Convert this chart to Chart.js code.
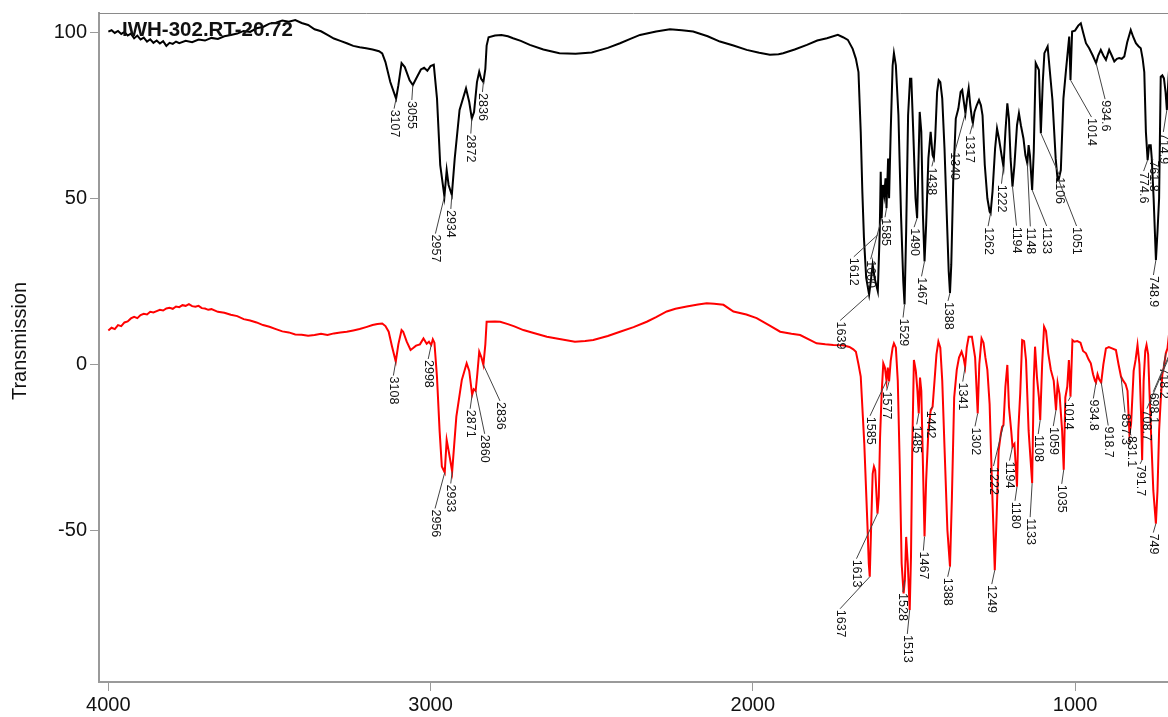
<!DOCTYPE html>
<html>
<head>
<meta charset="utf-8">
<title>IWH-302.RT-20.72</title>
<script src="https://cdn.jsdelivr.net/npm/chart.js@4.4.1/dist/chart.umd.min.js"></script>
<style>
  html, body { margin: 0; padding: 0; background: #fff; }
  #wrap { width: 1168px; height: 717px; }
</style>
</head>
<body>
<div id="wrap"><canvas id="ir" width="1168" height="717"></canvas></div>
<script>
const sampleName = 'IWH-302.RT-20.72';
const yTitle = 'Transmission';
const xTicks = [4000, 3000, 2000, 1000];
const yTicks = [100, 50, 0, -50];

// [wavenumber, transmission]
const blackPts = [
  [4000,100.2],[3990,100.6],[3980,99.8],[3970,100.4],[3960,99.5],[3950,100.1],[3940,99.0],[3930,99.6],
  [3920,98.2],[3910,99.0],[3900,97.8],[3890,98.4],[3880,97.2],[3870,97.9],[3860,96.8],[3850,97.5],
  [3840,96.6],[3830,97.3],[3820,95.9],[3810,96.8],[3800,96.5],[3790,97.2],[3780,96.7],[3760,97.4],
  [3740,97.0],[3720,97.8],[3700,97.5],[3680,98.3],[3660,98.0],[3640,98.8],[3620,99.2],[3600,99.6],
  [3580,100.4],[3560,100.1],[3540,101.2],[3520,101.6],[3500,102.6],[3480,102.9],[3460,103.5],[3440,103.2],
  [3420,103.7],[3400,102.8],[3380,102.2],[3360,100.9],[3340,100.3],[3320,99.2],[3300,98.1],[3280,97.4],
  [3260,96.7],[3240,95.9],[3220,95.5],[3200,95.2],[3180,94.8],[3160,94.3],[3150,93.6],[3140,91],
  [3125,85],[3107,80],[3100,84],[3090,90.7],[3080,89.5],[3065,85.5],[3055,84.1],[3045,86],
  [3030,88.8],[3020,89.3],[3010,88.4],[3000,89.8],[2990,90.2],[2980,80],[2970,60],[2957,50.5],
  [2950,58.5],[2944,54],[2934,51],[2925,62],[2910,76.6],[2890,83.1],[2880,79],[2872,74],
  [2865,76],[2856,85],[2849,88.1],[2843,86],[2836,85],[2830,89],[2826,96],[2820,98.5],
  [2800,99],[2780,99.2],[2760,98.8],[2744,98.2],[2720,97.4],[2692,96.2],[2650,94.8],[2600,93.7],
  [2550,93.5],[2500,93.9],[2450,95.3],[2412,96.7],[2380,98],[2350,99.2],[2300,100.2],[2257,100.9],
  [2220,100.6],[2185,100.2],[2140,98.8],[2102,97.2],[2060,96],[2019,94.7],[1980,93.8],[1947,93.2],
  [1920,93.4],[1906,93.7],[1870,94.8],[1832,96.2],[1800,97.5],[1770,98.2],[1736,99.2],[1720,98.5],
  [1705,97.7],[1690,95],[1680,92],[1672,88],[1665,70],[1660,52],[1655,38],[1648,26],
  [1639,21],[1635,24],[1628,30],[1622,26],[1612,22],[1606,40],[1603,58],[1600,44],
  [1596,54],[1592,51],[1588,56],[1585,47],[1580,62],[1577,50],[1572,70],[1566,90],
  [1562,93.7],[1556,90],[1548,75],[1540,45],[1533,25],[1529,18],[1524,40],[1518,75],
  [1512,86],[1508,86],[1502,70],[1495,50],[1490,44],[1486,60],[1482,76],[1477,70],
  [1472,45],[1467,31],[1462,42],[1455,62],[1448,70],[1442,63],[1438,62],[1434,68],
  [1428,82],[1423,85.6],[1418,85],[1412,80],[1405,65],[1398,45],[1392,28],[1388,21.5],
  [1384,30],[1378,55],[1370,74],[1362,77],[1355,82],[1350,82.6],[1345,79],[1340,75.6],
  [1335,80],[1330,83.1],[1325,78],[1320,74],[1317,72.6],[1312,76],[1305,78],[1298,79.6],
  [1292,78],[1287,75],[1280,60],[1272,50],[1265,46],[1262,45.5],[1256,52],[1248,65],
  [1242,71],[1236,68],[1228,63],[1222,59.5],[1216,70],[1210,78.6],[1205,74],[1200,62],
  [1194,53.5],[1188,60],[1180,72],[1174,75.6],[1168,72],[1160,68],[1154,63],[1148,60.5],
  [1144,66],[1140,63],[1133,52.5],[1128,64],[1122,90.7],[1112,88.6],[1106,69.6],[1100,85],
  [1095,93.7],[1085,95.7],[1070,79.6],[1060,62],[1054,55.5],[1051,55.5],[1044,58.5],[1036,80],
  [1028,88.6],[1018,98.7],[1014,85.6],[1009,100.2],[1000,100.5],[990,102],[982,102.7],[975,100],
  [966,96.7],[956,95.2],[945,93],[934.6,90.7],[928,93],[920,94.7],[912,93],[904,91.7],
  [894,94.7],[886,93],[878,91.2],[870,92],[863,92.2],[855,92],[847,92.7],[838,97],
  [827,100.7],[819,98.5],[811,96.7],[803,95.8],[796,95.2],[790,92],[785,88],[780,70],
  [774.6,61.5],[770,66],[765,66],[761.8,62],[756,50],[748.9,31.4],[744,40],[739,50],
  [734,86.6],[729,87],[724,86.1],[719,82],[714.9,76.6],[710,86],[704,94.5],[695,96]
];

const redPts = [
  [4000,10.2],[3990,11.0],[3980,10.6],[3970,11.8],[3960,11.5],[3950,12.6],[3940,12.9],[3930,13.8],
  [3920,14.3],[3910,13.9],[3900,14.8],[3890,15.2],[3880,15.0],[3870,15.8],[3860,15.6],[3850,16.0],
  [3840,16.4],[3830,16.2],[3820,16.8],[3810,17.0],[3800,16.7],[3790,17.4],[3780,17.2],[3770,17.8],
  [3760,17.6],[3750,18.1],[3740,17.5],[3730,17.3],[3720,17.6],[3710,16.9],[3700,16.8],[3690,16.4],
  [3680,16.6],[3660,15.8],[3640,15.5],[3620,14.9],[3600,14.5],[3580,13.6],[3560,13.2],[3540,12.6],
  [3520,11.8],[3500,11.3],[3480,10.6],[3460,9.9],[3440,9.6],[3420,9.0],[3400,8.9],[3380,8.6],
  [3360,8.8],[3340,9.2],[3320,8.8],[3300,9.3],[3280,9.6],[3260,9.8],[3240,10.2],[3220,10.6],
  [3200,11.2],[3180,11.8],[3165,12.1],[3150,12.3],[3140,11.5],[3130,9.8],[3120,5.5],[3108,0.8],
  [3100,6],[3090,10.3],[3085,9.8],[3074,6.8],[3062,4.3],[3055,4.8],[3045,5.6],[3033,6],
  [3022,7.8],[3012,6.2],[3005,6.8],[2998,5.8],[2993,7.5],[2988,6.5],[2980,-4],[2972,-20],
  [2965,-30.8],[2956,-32.6],[2950,-22.8],[2944,-26],[2933,-32.3],[2920,-15.8],[2903,-4.7],[2888,0.3],
  [2880,-2],[2871,-9.2],[2866,-7.5],[2860,-8],[2855,-3],[2849,3.8],[2842,2],[2836,-0.2],
  [2830,6],[2826,12.8],[2800,12.9],[2784,12.8],[2760,12.1],[2740,11.4],[2712,10.3],[2680,9.4],
  [2639,8.3],[2600,7.6],[2552,6.8],[2520,7],[2495,7.3],[2450,8.5],[2412,9.8],[2370,11.2],
  [2329,12.8],[2300,14.2],[2267,15.9],[2240,16.7],[2205,17.4],[2170,18],[2143,18.4],[2120,18.2],
  [2091,17.9],[2060,15.9],[2020,15],[1988,13.9],[1950,11.8],[1915,9.8],[1880,9.2],[1853,8.8],
  [1820,7.2],[1802,6.3],[1775,6],[1750,5.8],[1720,5.7],[1700,5.2],[1688,4.5],[1680,3.8],
  [1672,0],[1665,-3.7],[1654,-23.8],[1644,-48.9],[1640,-60],[1637,-64],[1633,-50],[1628,-33],
  [1624,-30.8],[1620,-32],[1613,-45],[1609,-40],[1605,-22],[1600,-8.7],[1595,0.3],[1590,-1],
  [1585,-5],[1581,-1],[1577,-5.2],[1572,1],[1566,5],[1562,6.3],[1556,5],[1550,-5],
  [1544,-30],[1538,-60],[1532,-69],[1528,-65],[1524,-52],[1519,-60],[1513,-74],[1509,-58],
  [1505,-25],[1500,1.3],[1494,-2],[1489,-8],[1485,-14.8],[1481,-4],[1477,-8],[1472,-30],
  [1467,-51.9],[1462,-35],[1455,-20],[1448,-14],[1442,-12.8],[1436,-5],[1430,3],[1424,6.8],
  [1418,5],[1412,-5],[1405,-25],[1396,-50],[1388,-61],[1382,-40],[1375,-10],[1367,-1.7],
  [1360,2],[1352,3.8],[1346,2],[1341,-0.7],[1336,5],[1330,8.3],[1320,8.3],[1310,2],
  [1302,-14.8],[1297,0],[1290,7.8],[1284,6.5],[1278,2],[1272,-1.7],[1265,-12],[1258,-35],
  [1249,-62],[1243,-45],[1237,-26],[1230,-20.8],[1226,-18.8],[1222,-18.3],[1216,-6.7],[1210,-0.2],
  [1205,-12.8],[1198,-20],[1194,-24.8],[1188,-24],[1180,-36.9],[1176,-20],[1170,-8.7],[1164,7.3],
  [1158,7],[1152,1.3],[1144,-20],[1133,-35.8],[1128,-5],[1124,5.3],[1118,-4],[1112,-10],
  [1108,-16.8],[1102,0],[1096,11.3],[1090,10],[1083,3.3],[1075,-1.7],[1066,-5],[1059,-13.8],
  [1054,-5.7],[1048,-9],[1040,-20],[1035,-31.8],[1030,-10],[1024,-6.7],[1019,1.3],[1014,-9.8],
  [1008,7.3],[1002,6.8],[993,7],[983,6.5],[975,4],[966,3.3],[958,1.5],[951,0.3],
  [944,-3],[938,-5],[934.8,-5.5],[930,-3],[925,-4.5],[918.7,-5.5],[912,0],[904,4.8],
  [895,5.2],[885,4.8],[873,4.3],[865,0],[857.3,-3.7],[850,-5],[843,-6],[837,-8],
  [831.1,-21],[826,-18],[818,-2],[812,1.3],[806,5.8],[800,0],[795,-15],[791.7,-28.8],
  [787,-5],[782,4],[778,5.8],[773,3],[769,-8],[764,-20.8],[757,-38],[749,-48],
  [744,-38],[739,-20],[734,-10.8],[729,-3],[724,-0.7],[718.2,3.3],[713,4.8],[708,9.3],
  [700,11],[695,12]
];

// peak labels: [text, wavenumber, transmission at the peak]
const blackPeaks = [
  ['3107',3107,80],['3055',3055,84.1],['2957',2957,50.5],['2934',2934,51],['2872',2872,74],['2836',2836,85],
  ['1639',1639,21],['1612',1612,39],['1600',1600,44],['1585',1585,47],['1529',1529,18],['1490',1490,44],
  ['1467',1467,31],['1438',1438,62],['1388',1388,21.5],['1340',1340,75.6],['1317',1317,72.6],['1262',1262,45.5],
  ['1222',1222,59.5],['1194',1194,53.5],['1148',1148,60.5],['1133',1133,52.5],['1106',1106,69.6],['1051',1051,55.5],
  ['1014',1014,85.6],['934.6',934.6,90.7],['774.6',774.6,61.5],['761.8',761.8,62],['748.9',748.9,31.4],['714.9',714.9,76.6]
];
const redPeaks = [
  ['3108',3108,0.8],['2998',2998,5.8],['2956',2956,-32.6],['2933',2933,-32.3],['2871',2871,-9.2],['2860',2860,-8],
  ['2836',2836,-0.2],['1637',1637,-64],['1613',1613,-45],['1585',1585,-5],['1577',1577,-5.2],['1528',1528,-65],
  ['1513',1513,-74],['1485',1485,-14.8],['1467',1467,-51.9],['1442',1442,-12.8],['1388',1388,-61],['1341',1341,-0.7],
  ['1302',1302,-14.8],['1249',1249,-62],['1222',1222,-18.3],['1194',1194,-24.8],['1180',1180,-36.9],['1133',1133,-35.8],
  ['1108',1108,-16.8],['1059',1059,-13.8],['1035',1035,-31.8],['1014',1014,-9.8],['934.8',934.8,-5.5],['918.7',918.7,-5.5],
  ['857.3',857.3,-3.7],['831.1',831.1,-21],['791.7',791.7,-28.8],['749',749,-48],['718.2',718.2,3.3],['708.7',708.7,2],
  ['698.1',698.1,5]
];

// where each label text starts, relative to its peak (px)
const blackLabelOffsets = [
  [-2,11],[-1,16],[-9,38],[-1,15],[-1,16],[-1,11],
  [-29,27],[-24,23],[-11,42],[-1.5,10],[-1.5,14],[-3,10],
  [-3,16],[-2,9],[-2,9],[-10.5,39],[-3,12],[-2.5,14],
  [-2,18],[4,40],[3,64],[14.5,37],[19,44],[18,47],
  [21,38],[9,37],[-4,12],[1.5,2],[-2.5,16],[-3.5,23]
];
const redLabelOffsets = [
  [-2.4,15],[-3,15],[-9.7,37],[-1.4,13],[-2,15],[9,44],
  [16.6,37],[-29.7,33],[-21,46],[-16.5,36],[-2.4,10],[-2,13],
  [-2.4,25],[-2,12],[-1.2,15],[-2.6,4],[-2.3,11],[-2.4,16],
  [-2.7,14],[-3,15],[-10,42],[-3,15],[-2,15],[-2,35],
  [-2,15],[-2.7,17],[-2,15],[-2.2,5],[-2.7,17],[7,44],
  [4,37],[2,2],[-2,5],[-2.6,10],[-2.5,14],[-22,52],
  [-19,45]
];

const toXY = pts => pts.map(p => ({ x: p[0], y: p[1] }));
const fontFam = '"Liberation Sans", Arial, sans-serif';

const peakLabels = {
  id: 'peakLabels',
  afterDatasetsDraw(chart) {
    const { ctx, scales: { x, y } } = chart;
    const drawSet = (peaks, offs) => {
      peaks.forEach((p, i) => {
        const ax = x.getPixelForValue(p[1]);
        const ay = y.getPixelForValue(p[2]);
        const tx = ax + offs[i][0];
        const ty = ay + offs[i][1];
        ctx.beginPath();
        ctx.moveTo(ax, ay);
        ctx.lineTo(tx, ty - 1);
        ctx.strokeStyle = '#444';
        ctx.lineWidth = 1;
        ctx.stroke();
        ctx.save();
        ctx.translate(tx, ty);
        ctx.rotate(Math.PI / 2);
        ctx.fillStyle = '#111';
        ctx.font = '12.5px ' + fontFam;
        ctx.textAlign = 'left';
        ctx.textBaseline = 'middle';
        ctx.fillText(p[0], 0, 0);
        ctx.restore();
      });
    };
    ctx.save();
    drawSet(blackPeaks, blackLabelOffsets);
    drawSet(redPeaks, redLabelOffsets);

    // frame top, sample name, y title
    const a = chart.chartArea;
    ctx.beginPath();
    ctx.moveTo(a.left, a.top + 0.5);
    ctx.lineTo(a.right, a.top + 0.5);
    ctx.strokeStyle = '#8a8a8a';
    ctx.lineWidth = 1;
    ctx.stroke();
    ctx.fillStyle = '#111';
    ctx.font = 'bold 20.5px ' + fontFam;
    ctx.textAlign = 'left';
    ctx.textBaseline = 'middle';
    ctx.fillText(sampleName, a.left + 23, 30);

    ctx.save();
    ctx.translate(20, 341);
    ctx.rotate(-Math.PI / 2);
    ctx.font = '20px ' + fontFam;
    ctx.textAlign = 'center';
    ctx.fillText(yTitle, 0, 0);
    ctx.restore();
    ctx.restore();
  }
};

new Chart(document.getElementById('ir'), {
  type: 'scatter',
  data: {
    datasets: [
      { data: toXY(blackPts), showLine: true, borderColor: '#000', borderWidth: 2, pointRadius: 0, tension: 0 },
      { data: toXY(redPts),   showLine: true, borderColor: '#ff0000', borderWidth: 2, pointRadius: 0, tension: 0 }
    ]
  },
  options: {
    responsive: false,
    animation: false,
    layout: { padding: { top: 12, right: 0, left: 0, bottom: 0 } },
    plugins: { legend: { display: false }, tooltip: { enabled: false } },
    scales: {
      x: {
        type: 'linear', reverse: true, min: 711.4, max: 4029,
        afterBuildTicks: s => { s.ticks = xTicks.map(v => ({ value: v })); },
        afterFit: s => { s.height = 35; },
        grid: { drawOnChartArea: false, drawTicks: true, tickLength: 9, color: '#9a9a9a' },
        border: { display: true, color: '#9a9a9a', width: 2 },
        ticks: { color: '#111', padding: 2, maxRotation: 0, font: { size: 20, family: fontFam }, callback: v => String(v) }
      },
      y: {
        type: 'linear', min: -95.7, max: 105.8,
        afterBuildTicks: s => { s.ticks = yTicks.map(v => ({ value: v })); },
        afterFit: s => { s.width = 99; },
        grid: { drawOnChartArea: false, drawTicks: true, tickLength: 9, color: '#9a9a9a' },
        border: { display: true, color: '#9a9a9a', width: 2 },
        ticks: { color: '#111', padding: 3, font: { size: 20, family: fontFam, lineHeight: 1 }, callback: v => String(v) }
      }
    }
  },
  plugins: [peakLabels]
});
</script>
</body>
</html>
